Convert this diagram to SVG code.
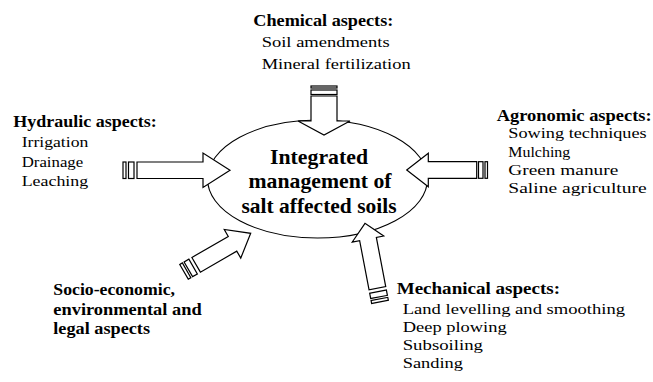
<svg xmlns="http://www.w3.org/2000/svg" width="653" height="382" viewBox="0 0 653 382">
<style>
  text { font-family: "Liberation Serif", "Times New Roman", serif; fill: #000; }
  .h { font-size: 16.5px; font-weight: bold; }
  .r { font-size: 15.5px; }
  .c { font-size: 21px; font-weight: bold; text-anchor: middle; }
  .shape { fill: #fff; stroke: #000; stroke-width: 1.2; stroke-linejoin: miter; }
  .ell { fill: #fff; stroke: #000; stroke-width: 1.1; }
</style>
<rect width="653" height="382" fill="#fff"/>

<g id="center">
  <ellipse class="ell" cx="317.5" cy="179" rx="110" ry="59"/>
  <text class="c" x="319" y="163.5" textLength="98" lengthAdjust="spacingAndGlyphs">Integrated</text>
  <text class="c" x="320" y="188" textLength="143" lengthAdjust="spacingAndGlyphs">management of</text>
  <text class="c" x="319" y="213" textLength="155" lengthAdjust="spacingAndGlyphs">salt affected soils</text>
</g>

<g id="connectors">
  <g id="arrow-chemical">
    <rect class="shape" x="311" y="86" width="26" height="2"/>
    <rect class="shape" x="311" y="90" width="26" height="4.5"/>
    <path class="shape" d="M311,96 H337 V121 H350 L324,135 L298,121 H311 Z"/>
  </g>
  <g id="arrow-hydraulic">
    <rect class="shape" x="123" y="162" width="3" height="16.5"/>
    <rect class="shape" x="128.5" y="162" width="5.5" height="16.5"/>
    <path class="shape" d="M137,162 H203 V153 L230,170.3 L203,187.5 V178.5 H137 Z"/>
  </g>
  <g id="arrow-agronomic">
    <path class="shape" d="M476.7,161.7 H428.3 V153.3 L406.7,170 L428.3,186.7 V178.3 H476.7 Z"/>
    <rect class="shape" x="478.5" y="161.7" width="4.5" height="16.6"/>
    <rect class="shape" x="485" y="161.7" width="2.5" height="16.6"/>
  </g>
  <g id="arrow-socio" transform="translate(250.7,233.3) rotate(-30)">
    <rect class="shape" x="-77" y="-8.5" width="3" height="17"/>
    <rect class="shape" x="-72" y="-8.5" width="5.5" height="17"/>
    <path class="shape" d="M-63,-8.5 H-21 V-16.5 L0,0 L-21,16.5 V8.5 H-63 Z"/>
  </g>
  <g id="arrow-mechanical" transform="translate(365,223.3) rotate(-100.8)">
    <rect class="shape" x="-80" y="-8.5" width="3" height="17"/>
    <rect class="shape" x="-75" y="-8.5" width="5.5" height="17"/>
    <path class="shape" d="M-66,-8.5 H-16 V-16 L0,0 L-16,16 V8.5 H-66 Z"/>
  </g>
</g>

<g id="chemical">
  <text class="h" x="253.3" y="25.5" textLength="140" lengthAdjust="spacingAndGlyphs">Chemical aspects:</text>
  <text class="r" x="261.7" y="46.5" textLength="128" lengthAdjust="spacingAndGlyphs">Soil amendments</text>
  <text class="r" x="261.7" y="68.5" textLength="149" lengthAdjust="spacingAndGlyphs">Mineral fertilization</text>
</g>

<g id="hydraulic">
  <text class="h" x="13.3" y="126.5" textLength="143.4" lengthAdjust="spacingAndGlyphs">Hydraulic aspects:</text>
  <text class="r" x="21.7" y="146.5" textLength="66.6" lengthAdjust="spacingAndGlyphs">Irrigation</text>
  <text class="r" x="21.7" y="166.5" textLength="61.5" lengthAdjust="spacingAndGlyphs">Drainage</text>
  <text class="r" x="21.7" y="186" textLength="66.5" lengthAdjust="spacingAndGlyphs">Leaching</text>
</g>

<g id="agronomic">
  <text class="h" x="496.7" y="120.7" textLength="155" lengthAdjust="spacingAndGlyphs">Agronomic aspects:</text>
  <text class="r" x="508.3" y="138.3" textLength="138.4" lengthAdjust="spacingAndGlyphs">Sowing techniques</text>
  <text class="r" x="508.3" y="156.5" textLength="62" lengthAdjust="spacingAndGlyphs">Mulching</text>
  <text class="r" x="508.3" y="174.8" textLength="110" lengthAdjust="spacingAndGlyphs">Green manure</text>
  <text class="r" x="508.3" y="192.7" textLength="138.4" lengthAdjust="spacingAndGlyphs">Saline agriculture</text>
</g>

<g id="socio">
  <text class="h" x="53.3" y="295" textLength="121.7" lengthAdjust="spacingAndGlyphs">Socio-economic,</text>
  <text class="h" x="53.3" y="315" textLength="148.4" lengthAdjust="spacingAndGlyphs">environmental and</text>
  <text class="h" x="53.3" y="333.5" textLength="96.7" lengthAdjust="spacingAndGlyphs">legal aspects</text>
</g>

<g id="mechanical">
  <text class="h" x="396.7" y="294" textLength="163.3" lengthAdjust="spacingAndGlyphs">Mechanical aspects:</text>
  <text class="r" x="402.7" y="313.8" textLength="222.3" lengthAdjust="spacingAndGlyphs">Land levelling and smoothing</text>
  <text class="r" x="402.7" y="331.8" textLength="104" lengthAdjust="spacingAndGlyphs">Deep plowing</text>
  <text class="r" x="402.7" y="350" textLength="80.3" lengthAdjust="spacingAndGlyphs">Subsoiling</text>
  <text class="r" x="402.7" y="368.3" textLength="60.3" lengthAdjust="spacingAndGlyphs">Sanding</text>
</g>
</svg>
